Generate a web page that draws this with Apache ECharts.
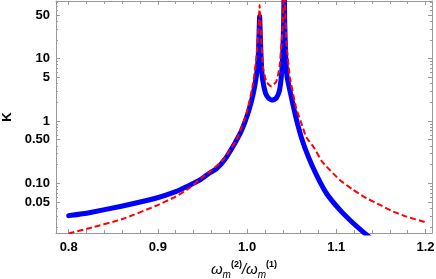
<!DOCTYPE html>
<html><head><meta charset="utf-8">
<script src="https://cdn.jsdelivr.net/npm/echarts@6/dist/echarts.min.js"></script>
<style>html,body{margin:0;padding:0;background:#fff}#c{width:436px;height:279px}</style>
</head><body><div id="c"></div>
<script>
// ---- data ----
const blueX = [0.800,0.823,0.8605,0.8975,0.920,0.935,0.9473,0.958,0.9655,0.975,0.9863,0.9938,1.0012,1.0068,1.0106,1.0124,1.0132,1.0137,1.0141,1.0145,1.0150,1.0158,1.0170,1.0207,1.0245,1.0285,1.0325,1.0360,1.0385,1.0400,1.0410,1.0416,1.0422,1.0432,1.0448,1.0495,1.0550,1.0611,1.0685,1.0779,1.0889,1.1040,1.1190,1.1320,1.1450];
const blueK = [0.0302,0.0337,0.0432,0.0574,0.0733,0.0922,0.113,0.146,0.170,0.240,0.440,0.70,1.35,2.70,5.5,10,20,35,48.5,35,20,10,5.14,2.78,2.30,2.17,2.30,2.95,5.3,12,40,150,40,12,5.14,2.45,1.1,0.53,0.27,0.135,0.0691,0.0373,0.0228,0.0157,0.011];
const redX = [0.800,0.823,0.8605,0.8975,0.920,0.935,0.950,0.958,0.973,0.988,0.9994,1.0068,1.0105,1.0129,1.0135,1.0140,1.0147,1.0159,1.0177,1.0215,1.0274,1.0327,1.0364,1.0394,1.0405,1.0416,1.0427,1.0439,1.0480,1.0551,1.0600,1.0663,1.0741,1.0834,1.0890,1.1040,1.1190,1.1340,1.1490,1.1640,1.1790,1.2000];
const redK = [0.0156,0.0190,0.0267,0.0432,0.0610,0.0831,0.125,0.152,0.237,0.496,1.33,4.03,10.8,32.6,50,72.8,45,22.5,7.44,4.27,3.6,4.27,7.44,25.6,60,200,60,19.9,5.0,1.6,1.0,0.55,0.39,0.23,0.185,0.113,0.0782,0.0574,0.0449,0.0350,0.0291,0.0237];
const xTickValues = [0.8,0.9,1.0,1.1,1.2];
const xTickLabels = ['0.8','0.9','1.0','1.1','1.2'];
const xMinorTicks = [0.82,0.84,0.86,0.88,0.92,0.94,0.96,0.98,1.02,1.04,1.06,1.08,1.12,1.14,1.16,1.18];
const yTickValues = [0.05,0.1,0.5,1,5,10,50];
const yTickLabels = ['0.05','0.10','0.50','1','5','10','50'];
const yMinorTicks = [0.02,0.03,0.04,0.06,0.07,0.08,0.09,0.2,0.3,0.4,0.6,0.7,0.8,0.9,2,3,4,6,7,8,9,20,30,40,60,70,80];
const xRange = [0.7858, 1.2073];
const kRange = [0.0159, 84.3];

// ---- build ----
const lg = v => Math.log10(v);
const yMin = lg(kRange[0]), yMax = lg(kRange[1]);
const frameColor = '#999999';
const font = 'Liberation Sans';

function xAxis(pos, ticks, len, withLabels, withLine) {
  return {
    type: 'value', position: pos, min: xRange[0], max: xRange[1],
    splitLine: {show: false},
    axisLine: {show: withLine, onZero: false, lineStyle: {color: frameColor, width: 1}},
    axisTick: {show: true, inside: true, length: len, customValues: ticks, lineStyle: {color: frameColor}},
    axisLabel: withLabels ? {
      show: true, customValues: xTickValues, margin: 8,
      fontFamily: font, fontWeight: 'bold', fontSize: 13, color: '#000',
      formatter: v => { const i = xTickValues.findIndex(t => Math.abs(t - v) < 1e-9); return i >= 0 ? xTickLabels[i] : ''; }
    } : {show: false}
  };
}
function yAxis(pos, ticks, len, withLabels, withLine) {
  return {
    type: 'value', position: pos, min: yMin, max: yMax,
    splitLine: {show: false},
    axisLine: {show: withLine, onZero: false, lineStyle: {color: frameColor, width: 1}},
    axisTick: {show: true, inside: true, length: len, customValues: ticks.map(lg), lineStyle: {color: frameColor}},
    axisLabel: withLabels ? {
      show: true, customValues: yTickValues.map(lg), margin: 6,
      fontFamily: font, fontWeight: 'bold', fontSize: 13, color: '#000',
      formatter: v => { const i = yTickValues.findIndex(t => Math.abs(lg(t) - v) < 1e-6); return i >= 0 ? yTickLabels[i] : ''; }
    } : {show: false}
  };
}

const xAxes = [
  xAxis('bottom', xTickValues, 4, true, true),
  xAxis('bottom', xMinorTicks, 3, false, false),
  xAxis('top', xTickValues, 4, false, true),
  xAxis('top', xMinorTicks, 3, false, false)
];
Object.assign(xAxes[0], {
  name: '{w|ω}{s|m}{p|(2)}{w|/ω}{s|m}{p|(1)}',
  nameLocation: 'middle', nameGap: 27,
  nameTextStyle: {
    rich: {
      w: {fontFamily: font, fontStyle: 'italic', fontSize: 15, color: '#000', lineHeight: 20, verticalAlign: 'middle'},
      s: {fontFamily: font, fontStyle: 'italic', fontSize: 10, color: '#000', lineHeight: 10, verticalAlign: 'bottom'},
      p: {fontFamily: font, fontWeight: 'bold', fontSize: 9, color: '#000', lineHeight: 10, verticalAlign: 'top'}
    }
  }
});
const yAxes = [
  yAxis('left', yTickValues, 4, true, true),
  yAxis('left', yMinorTicks, 2, false, false),
  yAxis('right', yTickValues, 4, false, true),
  yAxis('right', yMinorTicks, 2, false, false)
];
Object.assign(yAxes[0], {
  name: 'K', nameLocation: 'middle', nameGap: 40,
  nameTextStyle: {fontFamily: font, fontWeight: 'bold', fontSize: 13, color: '#000'}
});

const chart = echarts.init(document.getElementById('c'), null, {renderer: 'canvas'});
chart.setOption({
  animation: false,
  backgroundColor: '#fff',
  grid: {left: 56, right: 4, top: 1, bottom: 46, containLabel: false, outerBoundsMode: 'none'},
  xAxis: xAxes,
  yAxis: yAxes,
  series: [
    {type: 'line', xAxisIndex: 0, yAxisIndex: 0, showSymbol: false, symbol: 'none', smooth: 0.15,
     lineStyle: {color: '#0000ff', width: 5, cap: 'round', join: 'round'},
     data: blueX.map((x, i) => [x, lg(blueK[i])]), z: 2},
    {type: 'line', xAxisIndex: 0, yAxisIndex: 0, showSymbol: false, symbol: 'none', smooth: 0.15,
     lineStyle: {color: '#ff0000', width: 2, type: [6, 3]},
     data: redX.map((x, i) => [x, lg(redK[i])]), z: 3}
  ]
});
</script></body></html>
